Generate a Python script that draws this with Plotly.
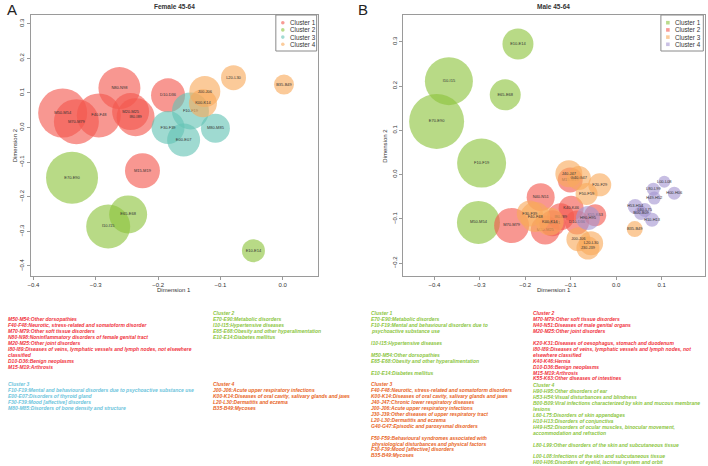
import plotly.graph_objects as go

W, H = 708, 466

# ---------------- Female 45-64 data ----------------
f_labels = ["M50-M54", "M70-M79", "F40-F48", "N80-N98", "M20-M25", "I80-I89", "D10-D36", "M15-M19",
            "E70-E90", "E65-E68", "I10-I15", "E10-E14",
            "F10-F19", "F30-F39", "E00-E07", "M80-M85",
            "J00-J06", "K00-K14", "L20-L30", "B35-B49"]
f_dim1 = [-0.353, -0.331, -0.295, -0.262, -0.244, -0.236, -0.184, -0.225,
          -0.338, -0.248, -0.280, -0.047,
          -0.148, -0.184, -0.159, -0.108,
          -0.125, -0.128, -0.079, 0.002]
f_dim2 = [0.042, 0.017, 0.035, 0.114, 0.046, 0.030, 0.093, -0.125,
          -0.145, -0.251, -0.286, -0.356,
          0.048, 0.000, -0.036, -0.002,
          0.104, 0.070, 0.144, 0.124]
f_weight = [49, 45, 44, 42, 37, 38, 34, 35,
            52, 38, 44, 23,
            37, 33, 33, 29,
            31, 28, 25, 20]
f_cluster = [1, 1, 1, 1, 1, 1, 1, 1,
             2, 2, 2, 2,
             3, 3, 3, 3,
             4, 4, 4, 4]

# ---------------- Male 45-64 data ----------------
m_labels = ["E10-E14", "I10-I15", "E65-E68", "E70-E90", "F10-F19", "M50-M54",
            "M70-M79", "N40-N51", "M20-M25", "K40-K46", "I80-I89", "K20-K31", "D10-D36", "M15-M19", "K55-K63",
            "J40-J47", "G40-G47", "F20-F29", "F50-F59", "F40-F48", "K00-K14", "F30-F39", "J00-J06", "L20-L30", "J30-J39", "B35-B49",
            "H90-H95", "L00-L08", "L80-L99", "H00-H06", "H49-H52", "H53-H54", "L60-L75", "B00-B09", "H10-H13"]
m_dim1 = [-0.216, -0.368, -0.244, -0.395, -0.296, -0.303,
          -0.230, -0.166, -0.156, -0.099, -0.122, -0.140, -0.086, -0.101, -0.046,
          -0.104, -0.082, -0.036, -0.065, -0.178, -0.146, -0.190, -0.083, -0.055, -0.062, 0.041,
          -0.062, 0.106, 0.082, 0.128, 0.084, 0.042, 0.063, 0.055, 0.079]
m_dim2 = [0.295, 0.211, 0.180, 0.120, 0.026, -0.108,
          -0.115, -0.051, -0.125, -0.076, -0.095, -0.110, -0.108, -0.012, -0.092,
          0.002, -0.008, -0.023, -0.044, -0.096, -0.106, -0.088, -0.146, -0.155, -0.166, -0.123,
          -0.098, -0.016, -0.033, -0.042, -0.053, -0.072, -0.080, -0.087, -0.102]
m_weight = [31, 48, 31, 55, 49, 43,
            35, 28, 29, 25, 27, 26, 24, 25, 22,
            27, 24, 23, 22, 30, 28, 26, 24, 24, 23, 16,
            24, 12, 13, 13, 13, 15, 14, 14, 14]
m_cluster = [1, 1, 1, 1, 1, 1,
             2, 2, 2, 2, 2, 2, 2, 2, 2,
             3, 3, 3, 3, 3, 3, 3, 3, 3, 3, 3,
             4, 4, 4, 4, 4, 4, 4, 4, 4]

f_cluster_names = ["Cluster 1", "Cluster 2", "Cluster 3", "Cluster 4"]
m_cluster_names = ["Cluster 1", "Cluster 2", "Cluster 3", "Cluster 4"]

# colours
RED = "#F4574D"
GREEN = "#8CC33C"
TEAL = "#64C3B4"
ORANGE = "#F8AA5A"
PURPLE = "#A596D2"
f_colors = {1: RED, 2: GREEN, 3: TEAL, 4: ORANGE}
m_colors = {1: GREEN, 2: RED, 3: ORANGE, 4: PURPLE}

# text legends below the plots
f_text_blocks = [
    ("#F0323C", 3, 319, ["M50-M54:Other dorsopathies",
                         "F40-F48:Neurotic, stress-related and somatoform disorder",
                         "M70-M79:Other soft tissue disorders",
                         "N80-N98:Noninflammatory disorders of female genital tract",
                         "M20-M25:Other joint disorders",
                         "I80-I89:Diseases of veins, lymphatic vessels and lymph nodes, not elsewhere",
                         "classified",
                         "D10-D36:Benign neoplasms",
                         "M15-M19:Arthrosis"]),
    ("#8CC63F", 209, 313, ["Cluster 2",
                           "E70-E90:Metabolic disorders",
                           "I10-I15:Hypertensive diseases",
                           "E65-E68:Obesity and other hyperalimentation",
                           "E10-E14:Diabetes mellitus"]),
    ("#6CC4DC", 3, 384, ["Cluster 3",
                         "F10-F19:Mental and behavioural disorders due to psychoactive substance use",
                         "E00-E07:Disorders of thyroid gland",
                         "F30-F39:Mood [affective] disorders",
                         "M80-M85:Disorders of bone density and structure"]),
    ("#E8641E", 209, 384, ["Cluster 4",
                           "J00-J06:Acute upper respiratory infections",
                           "K00-K14:Diseases of oral cavity, salivary glands and jaws",
                           "L20-L30:Dermatitis and eczema",
                           "B35-B49:Mycoses"]),
]
m_text_blocks = [
    ("#8CC63F", 368, 313, ["Cluster 1",
                           "E70-E90:Metabolic disorders",
                           "F10-F19:Mental and behavioural disorders due to",
                           "psychoactive substance use",
                           "",
                           "I10-I15:Hypertensive diseases",
                           "",
                           "M50-M54:Other dorsopathies",
                           "E65-E68:Obesity and other hyperalimentation",
                           "",
                           "E10-E14:Diabetes mellitus"]),
    ("#E8641E", 368, 384, ["Cluster 3",
                           "F40-F48:Neurotic, stress-related and somatoform disorders",
                           "K00-K14:Diseases of oral cavity, salivary glands and jaws",
                           "J40-J47:Chronic lower respiratory diseases",
                           "J00-J06:Acute upper respiratory infections",
                           "J30-J39:Other diseases of upper respiratory tract",
                           "L20-L30:Dermatitis and eczema",
                           "G40-G47:Episodic and paroxysmal disorders",
                           "",
                           "F50-F59:Behavioural syndromes associated with",
                           "physiological disturbances and physical factors",
                           "F30-F39:Mood [affective] disorders",
                           "B35-B49:Mycoses"]),
    ("#F0323C", 530, 313, ["Cluster 2",
                           "M70-M79:Other soft tissue disorders",
                           "N40-N51:Diseases of male genital organs",
                           "M20-M25:Other joint disorders",
                           "",
                           "K20-K31:Diseases of oesophagus, stomach and duodenum",
                           "I80-I89:Diseases of veins, lymphatic vessels and lymph nodes, not",
                           "elsewhere classified",
                           "K40-K46:Hernia",
                           "D10-D36:Benign neoplasms",
                           "M15-M19:Arthrosis",
                           "K55-K63:Other diseases of intestines"]),
    ("#8CC63F", 530, 385, ["Cluster 4",
                           "H90-H95:Other disorders of ear",
                           "H53-H54:Visual disturbances and blindness",
                           "B00-B09:Viral infections characterized by skin and mucous membrane",
                           "lesions",
                           "L60-L75:Disorders of skin appendages",
                           "H10-H13:Disorders of conjunctiva",
                           "H49-H52:Disorders of ocular muscles, binocular movement,",
                           "accommodation and refraction",
                           "",
                           "L80-L99:Other disorders of the skin and subcutaneous tissue",
                           "",
                           "L00-L08:Infections of the skin and subcutaneous tissue",
                           "H00-H06:Disorders of eyelid, lacrimal system and orbit"]),
]

# ---------------- figure ----------------
def px_x(p):
    return p / W

def px_y(p):
    return 1 - p / H

fig = go.Figure()

def add_bubbles(labels, d1, d2, wts, clus, colors, xa, ya):
    for c in [1, 2, 3, 4]:
        idx = [i for i in range(len(labels)) if clus[i] == c]
        fig.add_trace(go.Scatter(
            x=[d1[i] for i in idx], y=[d2[i] for i in idx],
            text=[labels[i] for i in idx],
            mode="markers+text",
            textposition="middle center",
            textfont=dict(size=4, color="#333333", family="Liberation Sans, Arial"),
            marker=dict(size=[wts[i] for i in idx], color=colors[c], opacity=0.62,
                        line=dict(width=0)),
            xaxis=xa, yaxis=ya, showlegend=False, hoverinfo="text"))

add_bubbles(f_labels, f_dim1, f_dim2, f_weight, f_cluster, f_colors, "x", "y")
add_bubbles(m_labels, m_dim1, m_dim2, m_weight, m_cluster, m_colors, "x2", "y2")

L1, R1 = 28, 316
L2, R2 = 401.7, 704.7
T, B = 14.7, 276

axis_common = dict(showgrid=False, zeroline=False, showline=True, mirror=True,
                   linecolor="#9a9a9a", linewidth=1, ticks="outside", ticklen=3,
                   tickcolor="#9a9a9a", tickformat=".1f",
                   tickfont=dict(size=6, color="#333333", family="Liberation Sans, Arial"))

fig.update_layout(
    width=W, height=H, margin=dict(l=0, r=0, t=0, b=0),
    paper_bgcolor="white", plot_bgcolor="white",
    xaxis=dict(domain=[px_x(L1), px_x(R1)], range=[-0.404, 0.056], tickvals=[-0.4, -0.3, -0.2, -0.1, 0.0],
               anchor="y", **axis_common),
    yaxis=dict(domain=[px_y(B), px_y(T)], range=[-0.429, 0.326],
               tickvals=[-0.4, -0.3, -0.2, -0.1, 0.0, 0.1, 0.2, 0.3], tickangle=-90,
               anchor="x", **axis_common),
    xaxis2=dict(domain=[px_x(L2), px_x(R2)], range=[-0.469, 0.195],
                tickvals=[-0.4, -0.3, -0.2, -0.1, 0.0, 0.1], anchor="y2", **axis_common),
    yaxis2=dict(domain=[px_y(B), px_y(T)], range=[-0.229, 0.361],
                tickvals=[-0.2, -0.1, 0.0, 0.1, 0.2, 0.3], tickangle=-90,
                anchor="x2", **axis_common),
)

ann = []
shapes = []
FONT = "Liberation Sans, Arial"

def add_text(x, y, text, size, color="#333333", bold=False, italic=False, angle=0, xanchor="center"):
    t = text
    if bold:
        t = "<b>" + t + "</b>"
    if italic:
        t = "<i>" + t + "</i>"
    ann.append(dict(x=px_x(x), y=px_y(y), xref="paper", yref="paper", text=t, showarrow=False,
                    xanchor=xanchor, yanchor="middle", textangle=angle,
                    font=dict(size=size, color=color, family=FONT)))

# panel letters and titles
add_text(9, 9, "A", 15, "#222222")
add_text(362, 9, "B", 15, "#222222")
add_text((L1 + R1) / 2, 6, "Female 45-64", 6.5, "#333333", bold=True)
add_text((L2 + R2) / 2, 6, "Male 45-64", 6.5, "#333333", bold=True)
# axis titles
add_text((L1 + R1) / 2, 290, "Dimension 1", 6, "#333333")
add_text((L2 + R2) / 2, 290, "Dimension 1", 6, "#333333")
add_text(12, (T + B) / 2, "Dimension 2", 6, "#333333", angle=-90)
add_text(384, (T + B) / 2, "Dimension 2", 6, "#333333", angle=-90)

# in-plot legends
def legend_box(x0, x1, names, colors, shape):
    shapes.append(dict(type="rect", xref="paper", yref="paper", x0=px_x(x0), x1=px_x(x1),
                       y0=px_y(51), y1=px_y(15), line=dict(color="#8a8a8a", width=1),
                       fillcolor="white"))
    for k, nm in enumerate(names):
        yy = 22.7 + k * 7.2
        cx = x0 + 7
        shapes.append(dict(type=shape, xref="paper", yref="paper",
                           x0=px_x(cx - 1.8), x1=px_x(cx + 1.8), y0=px_y(yy + 1.8), y1=px_y(yy - 1.8),
                           line=dict(width=0), fillcolor=colors[k + 1], opacity=0.6))
        add_text(x0 + 12.5, yy, nm, 6.3, "#333333", xanchor="left")

legend_box(274, 315, f_cluster_names, f_colors, "circle")
legend_box(660.7, 703.3, m_cluster_names, m_colors, "rect")

# text blocks
LINE = 5.95
for color, x0, y0, lines in f_text_blocks + m_text_blocks:
    for k, ln in enumerate(lines):
        if ln:
            add_text(x0, y0 + k * LINE, ln, 5, color, bold=True, italic=True, xanchor="left")

fig.update_layout(annotations=ann, shapes=shapes)
fig.write_html("out.html", config={"displayModeBar": False},
               post_script="document.body.style.margin='0';document.body.style.overflow='hidden';")
